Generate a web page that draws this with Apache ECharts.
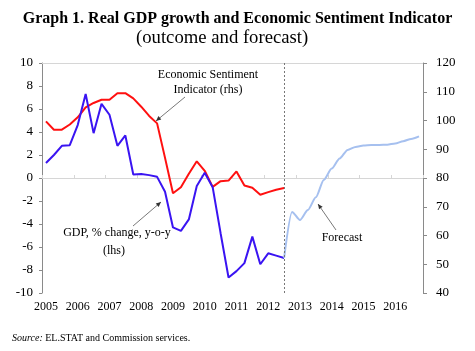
<!DOCTYPE html>
<html>
<head>
<meta charset="utf-8">
<script src="https://cdn.jsdelivr.net/npm/echarts@6/dist/echarts.min.js"></script>
<style>
  html, body { margin: 0; padding: 0; background: #fff; }
  #main { width: 475px; height: 351px; }
</style>
</head>
<body>
<div id="main"></div>
<script>
// years shown on the axis, quarterly categories
var years = ['2005', '2006', '2007', '2008', '2009', '2010', '2011', '2012', '2013', '2014', '2015', '2016'];
var quarters = ['Q1', 'Q2', 'Q3', 'Q4'];

// real GDP, % change y-o-y (lhs), 2005Q1 - 2012Q3
var gdp = [1.3, 2.0, 2.8, 2.85,
           4.6, 7.3, 3.9, 6.45,
           5.5, 2.8, 3.7, 0.3,
           0.35, 0.25, 0.1, -1.2,
           -4.3, -4.6, -3.6, -0.7,
           0.45, -0.8, -4.8, -8.65,
           -8.1, -7.4, -5.1, -7.5,
           -6.55, -6.75, -6.95];

// forecast, 2012Q3 - 2016Q4
var gdpForecast = [-6.95, -2.95,
                   -3.65, -2.78, -1.68, -0.17,
                   0.82, 1.7, 2.44, 2.7,
                   2.83, 2.86, 2.88, 2.9,
                   3.0, 3.2, 3.4, 3.62];

// economic sentiment indicator (rhs), 2005Q1 - 2012Q3
var esi = [99.7, 96.8, 96.8, 98.6,
           101.1, 104.6, 106.1, 107.2,
           107.2, 109.5, 109.5, 107.7,
           104.8, 101.6, 99.0, 87.0,
           74.7, 76.8, 81.5, 85.8,
           82.5, 76.9, 78.9, 79.1,
           82.3, 77.4, 76.6, 74.2,
           75.1, 75.9, 76.5];

var leftTicks = [-10, 10, 2];
var rightTicks = [40, 120, 10];

var cats = [];
years.forEach(function (y) { quarters.forEach(function (q) { cats.push(y + q); }); });

function pad(arr, before, total) {
  var out = [];
  for (var i = 0; i < before; i++) out.push(null);
  out = out.concat(arr);
  while (out.length < total) out.push(null);
  return out;
}

var serif = 'Liberation Serif';
var axisGrey = '#8a8a8a';
var lightGrey = '#d6d6d6';

function arrow(x1, y1, x2, y2) {
  var a = Math.atan2(y2 - y1, x2 - x1), L = 5, w = 2.2;
  var c = Math.cos(a), s = Math.sin(a);
  return [
    { type: 'line', shape: { x1: x1, y1: y1, x2: x2, y2: y2 }, style: { stroke: '#555', lineWidth: 0.8 } },
    { type: 'polygon', shape: { points: [[x2, y2], [x2 - L * c + w * s, y2 - L * s - w * c], [x2 - L * c - w * s, y2 - L * s + w * c]] }, style: { fill: '#333' } }
  ];
}

function label(text, x, y) {
  return { type: 'text', x: x, y: y, style: { text: text, fontFamily: serif, fontSize: 12, fill: '#000', align: 'center', verticalAlign: 'middle' } };
}

var myChart = echarts.init(document.getElementById('main'));
myChart.setOption({
  backgroundColor: '#fff',
  animation: false,
  title: [
    { text: 'Graph 1. Real GDP growth and Economic Sentiment Indicator', left: 'center', top: 11, padding: 0,
      textStyle: { fontFamily: serif, fontWeight: 'bold', fontSize: 16, color: '#000' } },
    { text: '(outcome and forecast)', left: 136, top: 29, padding: 0,
      textStyle: { fontFamily: serif, fontWeight: 'normal', fontSize: 18.7, color: '#000' } }
  ],
  grid: { left: 42, right: 52, top: 63, bottom: 58 },
  xAxis: [
    { // labels at the bottom
      type: 'category', data: cats, position: 'bottom', boundaryGap: true,
      axisLine: { show: false, onZero: false }, axisTick: { show: false },
      axisLabel: { interval: 3, margin: 8, fontFamily: serif, fontSize: 12, color: '#000',
                   formatter: function (v) { return v.slice(0, 4); } }
    },
    { // axis line through zero with year ticks
      type: 'category', data: cats, position: 'bottom', boundaryGap: true,
      axisLine: { show: true, onZero: true, onZeroAxisIndex: 0, lineStyle: { color: lightGrey, width: 1 } },
      axisTick: { show: true, interval: 3, inside: true, length: 3, lineStyle: { color: lightGrey } },
      axisLabel: { show: false }
    },
    { // top border
      type: 'category', data: cats, position: 'top', boundaryGap: true,
      axisLine: { show: true, onZero: false, lineStyle: { color: lightGrey, width: 1 } },
      axisTick: { show: false }, axisLabel: { show: false }
    }
  ],
  yAxis: [
    {
      type: 'value', min: leftTicks[0], max: leftTicks[1], interval: leftTicks[2],
      axisLine: { show: true, onZero: false, lineStyle: { color: axisGrey } },
      axisTick: { show: true, length: 3, lineStyle: { color: axisGrey } },
      splitLine: { show: false },
      axisLabel: { margin: 9, fontFamily: serif, fontSize: 13, color: '#000' }
    },
    {
      type: 'value', position: 'right', min: rightTicks[0], max: rightTicks[1], interval: rightTicks[2],
      axisLine: { show: true, onZero: false, lineStyle: { color: axisGrey } },
      axisTick: { show: true, length: 4, lineStyle: { color: axisGrey } },
      splitLine: { show: false },
      axisLabel: { margin: 13, fontFamily: serif, fontSize: 13, color: '#000' }
    }
  ],
  series: [
    {
      name: 'ESI', type: 'line', xAxisIndex: 0, yAxisIndex: 1,
      data: pad(esi, 0, cats.length), symbol: 'none',
      lineStyle: { color: '#ff1010', width: 2 }
    },
    {
      name: 'GDP', type: 'line', xAxisIndex: 0, yAxisIndex: 0,
      data: pad(gdp, 0, cats.length), symbol: 'none',
      lineStyle: { color: '#3a14f2', width: 2 },
      markLine: {
        silent: true, symbol: 'none', label: { show: false },
        lineStyle: { color: '#777', type: [2, 2], width: 1 },
        data: [{ xAxis: gdp.length - 1 }]
      }
    },
    {
      name: 'Forecast', type: 'line', xAxisIndex: 0, yAxisIndex: 0,
      data: pad(gdpForecast, gdp.length - 1, cats.length), symbol: 'none',
      smooth: 0.25, smoothMonotone: 'x',
      lineStyle: { color: '#a6c0ef', width: 2 }
    }
  ],
  graphic: [
    label('Economic Sentiment', 208, 75),
    label('Indicator (rhs)', 208, 90),
    label('GDP, % change, y-o-y', 117, 233),
    label('(lhs)', 114, 251),
    label('Forecast', 342, 238),
    {
      type: 'text', x: 12, y: 338,
      style: {
        text: '{i|Source:} EL.STAT and Commission services.', fontFamily: serif, fontSize: 10, fill: '#000', verticalAlign: 'middle',
        rich: { i: { fontStyle: 'italic', fontFamily: serif, fontSize: 10 } }
      }
    }
  ].concat(arrow(185, 97, 156, 121), arrow(133, 226, 161, 202), arrow(336, 230, 318, 204))
});
</script>
</body>
</html>
